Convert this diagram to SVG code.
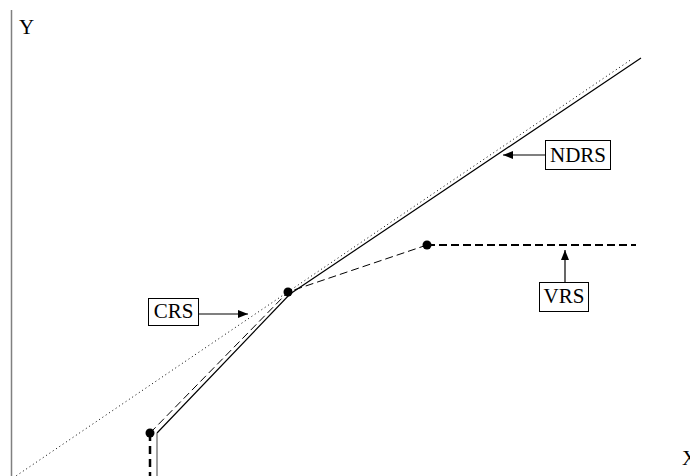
<svg xmlns="http://www.w3.org/2000/svg" width="690" height="476" viewBox="0 0 690 476">
<defs>
<marker id="ah" markerWidth="10" markerHeight="8" refX="10" refY="4" orient="auto" markerUnits="userSpaceOnUse"><path d="M0,0 L10,4 L0,8 Z" fill="#000"/></marker>
<style>
.lbl{font-family:"Liberation Serif","Times New Roman",serif;font-size:21px;fill:#000}
.box{fill:#fff;stroke:#000;stroke-width:1}
.arr{stroke:#000;stroke-width:1.2;fill:none;marker-end:url(#ah)}
.dot{fill:#000}
</style>
</defs>
<rect width="690" height="476" fill="#fff"/>
<g id="axes">
<line x1="11.5" y1="10" x2="11.5" y2="476" stroke="#808080" stroke-width="1.5"/>
<text class="lbl" x="19" y="34">Y</text>
<text class="lbl" x="682" y="465">X</text>
</g>
<g id="connectors">
<line x1="13" y1="478" x2="632" y2="59" stroke="#000" stroke-width="1" stroke-dasharray="1,3"/>
<polyline points="157,433 290,294 641,58" fill="none" stroke="#000" stroke-width="1.2"/>
<line x1="157" y1="433" x2="157" y2="476" stroke="#808080" stroke-width="1.5"/>
<line x1="150" y1="433" x2="150" y2="476" stroke="#000" stroke-width="2.5" stroke-dasharray="8,5"/>
<polyline points="150,433 288,292 427,245" fill="none" stroke="#000" stroke-width="1" stroke-dasharray="8,4"/>
<line x1="427" y1="245" x2="636" y2="245" stroke="#000" stroke-width="2" stroke-dasharray="8,4"/>
<line class="arr" x1="199" y1="314" x2="248" y2="314"/>
<line class="arr" x1="565" y1="282" x2="565" y2="250"/>
<line class="arr" x1="545" y1="155" x2="503" y2="155"/>
</g>
<g id="points">
<circle class="dot" cx="150" cy="433" r="4.5"/>
<circle class="dot" cx="288" cy="292" r="4.5"/>
<circle class="dot" cx="427" cy="245" r="4.5"/>
</g>
<g id="CRS">
<rect class="box" x="148.5" y="298.5" width="50" height="27"/>
<text class="lbl" x="173.5" y="318" text-anchor="middle">CRS</text>
</g>
<g id="VRS">
<rect class="box" x="539.5" y="282.5" width="49" height="29"/>
<text class="lbl" x="564" y="303" text-anchor="middle">VRS</text>
</g>
<g id="NDRS">
<rect class="box" x="545.5" y="140.5" width="65" height="29"/>
<text class="lbl" x="578" y="162" text-anchor="middle">NDRS</text>
</g>
</svg>
